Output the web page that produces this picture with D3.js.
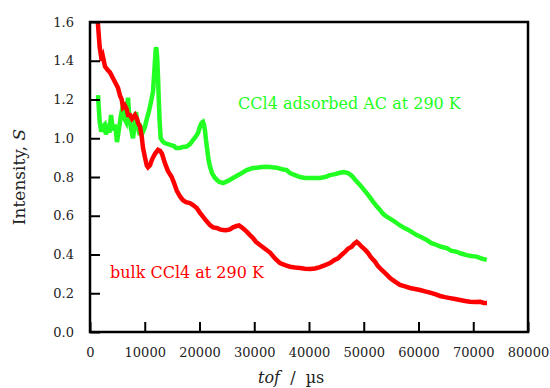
<!DOCTYPE html>
<html>
<head>
<meta charset="utf-8">
<script src="https://cdn.jsdelivr.net/npm/d3@7"></script>
<style>
  body { margin: 0; background: #fff; }
  svg text { font-family: "DejaVu Serif", serif; fill: #222; }
  .axis path { display: none; }
  .axis line { stroke: #000; stroke-width: 2; }
  .axis text { font-size: 13px; }
</style>
</head>
<body>
<div id="chart"></div>
<script>
// tof (µs) and intensity S
const bulkTof = [1370, 1770, 2140, 2370, 2740, 3290, 3650, 4200, 4750, 5110, 5480, 5790, 6030, 6340, 6700, 6940, 7310, 7670, 8220, 8580, 8770, 9130, 9440, 9680, 10050, 10360, 10590, 10960, 11320, 11870, 12420, 12790, 13150, 13700, 14250, 14920, 15340, 15840, 16440, 16990, 17530, 18260, 18810, 19490, 20090, 20640, 21190, 21920, 22470, 23140, 23740, 24290, 24840, 25570, 26120, 26790, 27220, 27710, 28130, 28620, 29220, 29770, 30320, 31050, 31960, 32880, 33790, 34700, 35620, 36530, 37440, 38360, 39270, 40180, 41100, 42010, 42930, 43840, 44570, 45300, 46030, 46570, 47120, 47800, 48220, 48710, 49130, 49620, 50230, 50780, 51320, 52060, 52600, 53280, 54060, 54800, 55710, 56620, 57540, 58450, 59360, 60270, 61190, 62100, 63020, 63930, 64840, 65750, 66670, 67580, 68500, 69410, 70320, 71240, 71970, 72510]
const bulkS = [1.62, 1.47, 1.40, 1.42, 1.37, 1.35, 1.34, 1.31, 1.28, 1.26, 1.22, 1.20, 1.16, 1.17, 1.15, 1.12, 1.12, 1.10, 1.12, 1.10, 1.08, 1.06, 1.01, 0.95, 0.90, 0.86, 0.85, 0.86, 0.89, 0.92, 0.94, 0.935, 0.92, 0.87, 0.83, 0.80, 0.77, 0.73, 0.70, 0.68, 0.67, 0.665, 0.655, 0.64, 0.615, 0.595, 0.575, 0.552, 0.54, 0.537, 0.53, 0.526, 0.525, 0.53, 0.54, 0.547, 0.55, 0.54, 0.53, 0.518, 0.50, 0.485, 0.465, 0.449, 0.43, 0.41, 0.38, 0.356, 0.345, 0.337, 0.333, 0.33, 0.327, 0.325, 0.328, 0.335, 0.345, 0.356, 0.37, 0.38, 0.40, 0.413, 0.43, 0.44, 0.455, 0.465, 0.455, 0.44, 0.425, 0.408, 0.385, 0.363, 0.34, 0.32, 0.30, 0.279, 0.26, 0.243, 0.235, 0.227, 0.222, 0.217, 0.21, 0.203, 0.195, 0.186, 0.18, 0.175, 0.17, 0.165, 0.16, 0.156, 0.155, 0.156, 0.15, 0.15]

const adsTof = [1460, 1770, 2060, 2370, 2680, 2920, 3290, 3560, 3840, 4200, 4510, 4750, 4930, 5300, 5660, 6030, 6300, 6580, 6940, 7210, 7490, 7850, 8130, 8400, 8770, 9080, 9410, 9680, 10050, 10230, 10590, 10900, 11230, 11510, 11690, 11820, 11980, 12110, 12290, 12420, 12550, 12730, 12910, 13240, 13640, 14250, 14790, 15340, 15710, 16440, 16990, 17660, 18260, 18810, 19360, 19730, 20090, 20400, 20640, 20820, 21000, 21190, 21420, 21640, 21920, 22280, 22830, 23560, 24290, 25200, 26120, 27400, 28620, 29590, 30450, 31420, 32270, 33240, 34100, 35070, 35930, 36530, 37440, 38360, 39270, 40180, 41100, 42010, 42930, 43840, 44750, 45660, 46390, 47120, 47660, 48030, 48580, 49310, 49860, 50530, 51140, 51690, 52330, 52970, 53520, 54190, 54800, 55710, 56620, 57540, 58450, 59670, 60460, 61500, 62280, 63320, 64110, 65150, 65940, 66970, 67760, 68800, 69590, 70630, 71420, 72460]
const adsS = [1.223, 1.085, 1.034, 1.06, 1.07, 1.02, 1.05, 1.03, 1.12, 1.04, 1.07, 1.03, 0.98, 1.05, 1.12, 1.17, 1.10, 1.085, 1.21, 1.10, 1.05, 1.0, 1.06, 1.135, 1.06, 1.017, 1.05, 1.034, 1.06, 1.085, 1.12, 1.156, 1.20, 1.24, 1.32, 1.378, 1.45, 1.47, 1.41, 1.32, 1.21, 1.08, 1.0, 0.985, 0.975, 0.97, 0.965, 0.96, 0.95, 0.95, 0.955, 0.957, 0.97, 0.99, 1.01, 1.027, 1.06, 1.08, 1.085, 1.07, 1.04, 0.99, 0.94, 0.89, 0.853, 0.82, 0.795, 0.775, 0.769, 0.78, 0.795, 0.815, 0.836, 0.845, 0.848, 0.852, 0.853, 0.85, 0.848, 0.84, 0.836, 0.82, 0.81, 0.80, 0.795, 0.795, 0.795, 0.795, 0.80, 0.81, 0.815, 0.822, 0.825, 0.82, 0.81, 0.80, 0.78, 0.759, 0.74, 0.717, 0.695, 0.673, 0.65, 0.63, 0.61, 0.595, 0.585, 0.569, 0.55, 0.535, 0.522, 0.50, 0.49, 0.475, 0.46, 0.449, 0.44, 0.433, 0.42, 0.414, 0.405, 0.397, 0.392, 0.389, 0.38, 0.372]

const xTicks = [0, 10000, 20000, 30000, 40000, 50000, 60000, 70000, 80000]
const yTicks = [0, 0.2, 0.4, 0.6, 0.8, 1.0, 1.2, 1.4, 1.6]

const margin = { top: 22, right: 22, bottom: 56, left: 90 }
const width = 550 - margin.left - margin.right
const height = 388 - margin.top - margin.bottom

const x = d3.scaleLinear().domain([0, 80000]).range([0, width])
const y = d3.scaleLinear().domain([0, 1.6]).range([height, 0])

const svg = d3.select("#chart").append("svg")
  .attr("width", 550)
  .attr("height", 388)

const g = svg.append("g")
  .attr("transform", "translate(" + margin.left + "," + margin.top + ")")

g.append("clipPath").attr("id", "plot")
  .append("rect").attr("width", width).attr("height", height)

const line = d3.line()
  .x(d => x(d[0]))
  .y(d => y(d[1]))

const bulk = bulkTof.map((t, i) => [t, bulkS[i]])
const ads = adsTof.map((t, i) => [t, adsS[i]])

g.append("path")
  .datum(ads)
  .attr("clip-path", "url(#plot)")
  .attr("fill", "none")
  .attr("stroke", "#22ff22")
  .attr("stroke-width", 4.5)
  .attr("d", line)

g.append("path")
  .datum(bulk)
  .attr("clip-path", "url(#plot)")
  .attr("fill", "none")
  .attr("stroke", "#ff0000")
  .attr("stroke-width", 4.5)
  .attr("d", line)

// axes with inward ticks
const xAxis = g.append("g")
  .attr("class", "axis")
  .attr("transform", "translate(0," + height + ")")
  .call(d3.axisBottom(x).tickValues(xTicks).tickSize(-10).tickPadding(16).tickFormat(d3.format("d")))

const yAxis = g.append("g")
  .attr("class", "axis")
  .call(d3.axisLeft(y).tickValues(yTicks).tickSize(-10).tickPadding(16).tickFormat(d3.format(".1f")))

xAxis.attr("font-family", null)
yAxis.attr("font-family", null)

g.append("rect")
  .attr("width", width)
  .attr("height", height)
  .attr("fill", "none")
  .attr("stroke", "#000")
  .attr("stroke-width", 2.5)

// labels
g.append("text")
  .attr("x", x(27050))
  .attr("y", y(1.153))
  .style("font-size", "16px")
  .style("fill", "#22ff22")
  .text("CCl4 adsorbed AC at 290 K")

g.append("text")
  .attr("x", x(3650))
  .attr("y", y(0.279))
  .style("font-size", "16px")
  .style("fill", "#ff0000")
  .text("bulk CCl4 at 290 K")

const yl = svg.append("text")
  .attr("transform", "translate(25," + (margin.top + height / 2) + ") rotate(-90)")
  .attr("text-anchor", "middle")
  .style("font-size", "17px")
yl.append("tspan").text("Intensity, ")
yl.append("tspan").style("font-style", "italic").text("S")

const xl = svg.append("text")
  .attr("x", 258)
  .attr("y", 383)
  .style("font-size", "16px")
  .style("white-space", "pre")
xl.append("tspan").style("font-style", "italic").text("tof")
xl.append("tspan").text("  /  µs")
</script>
</body>
</html>
